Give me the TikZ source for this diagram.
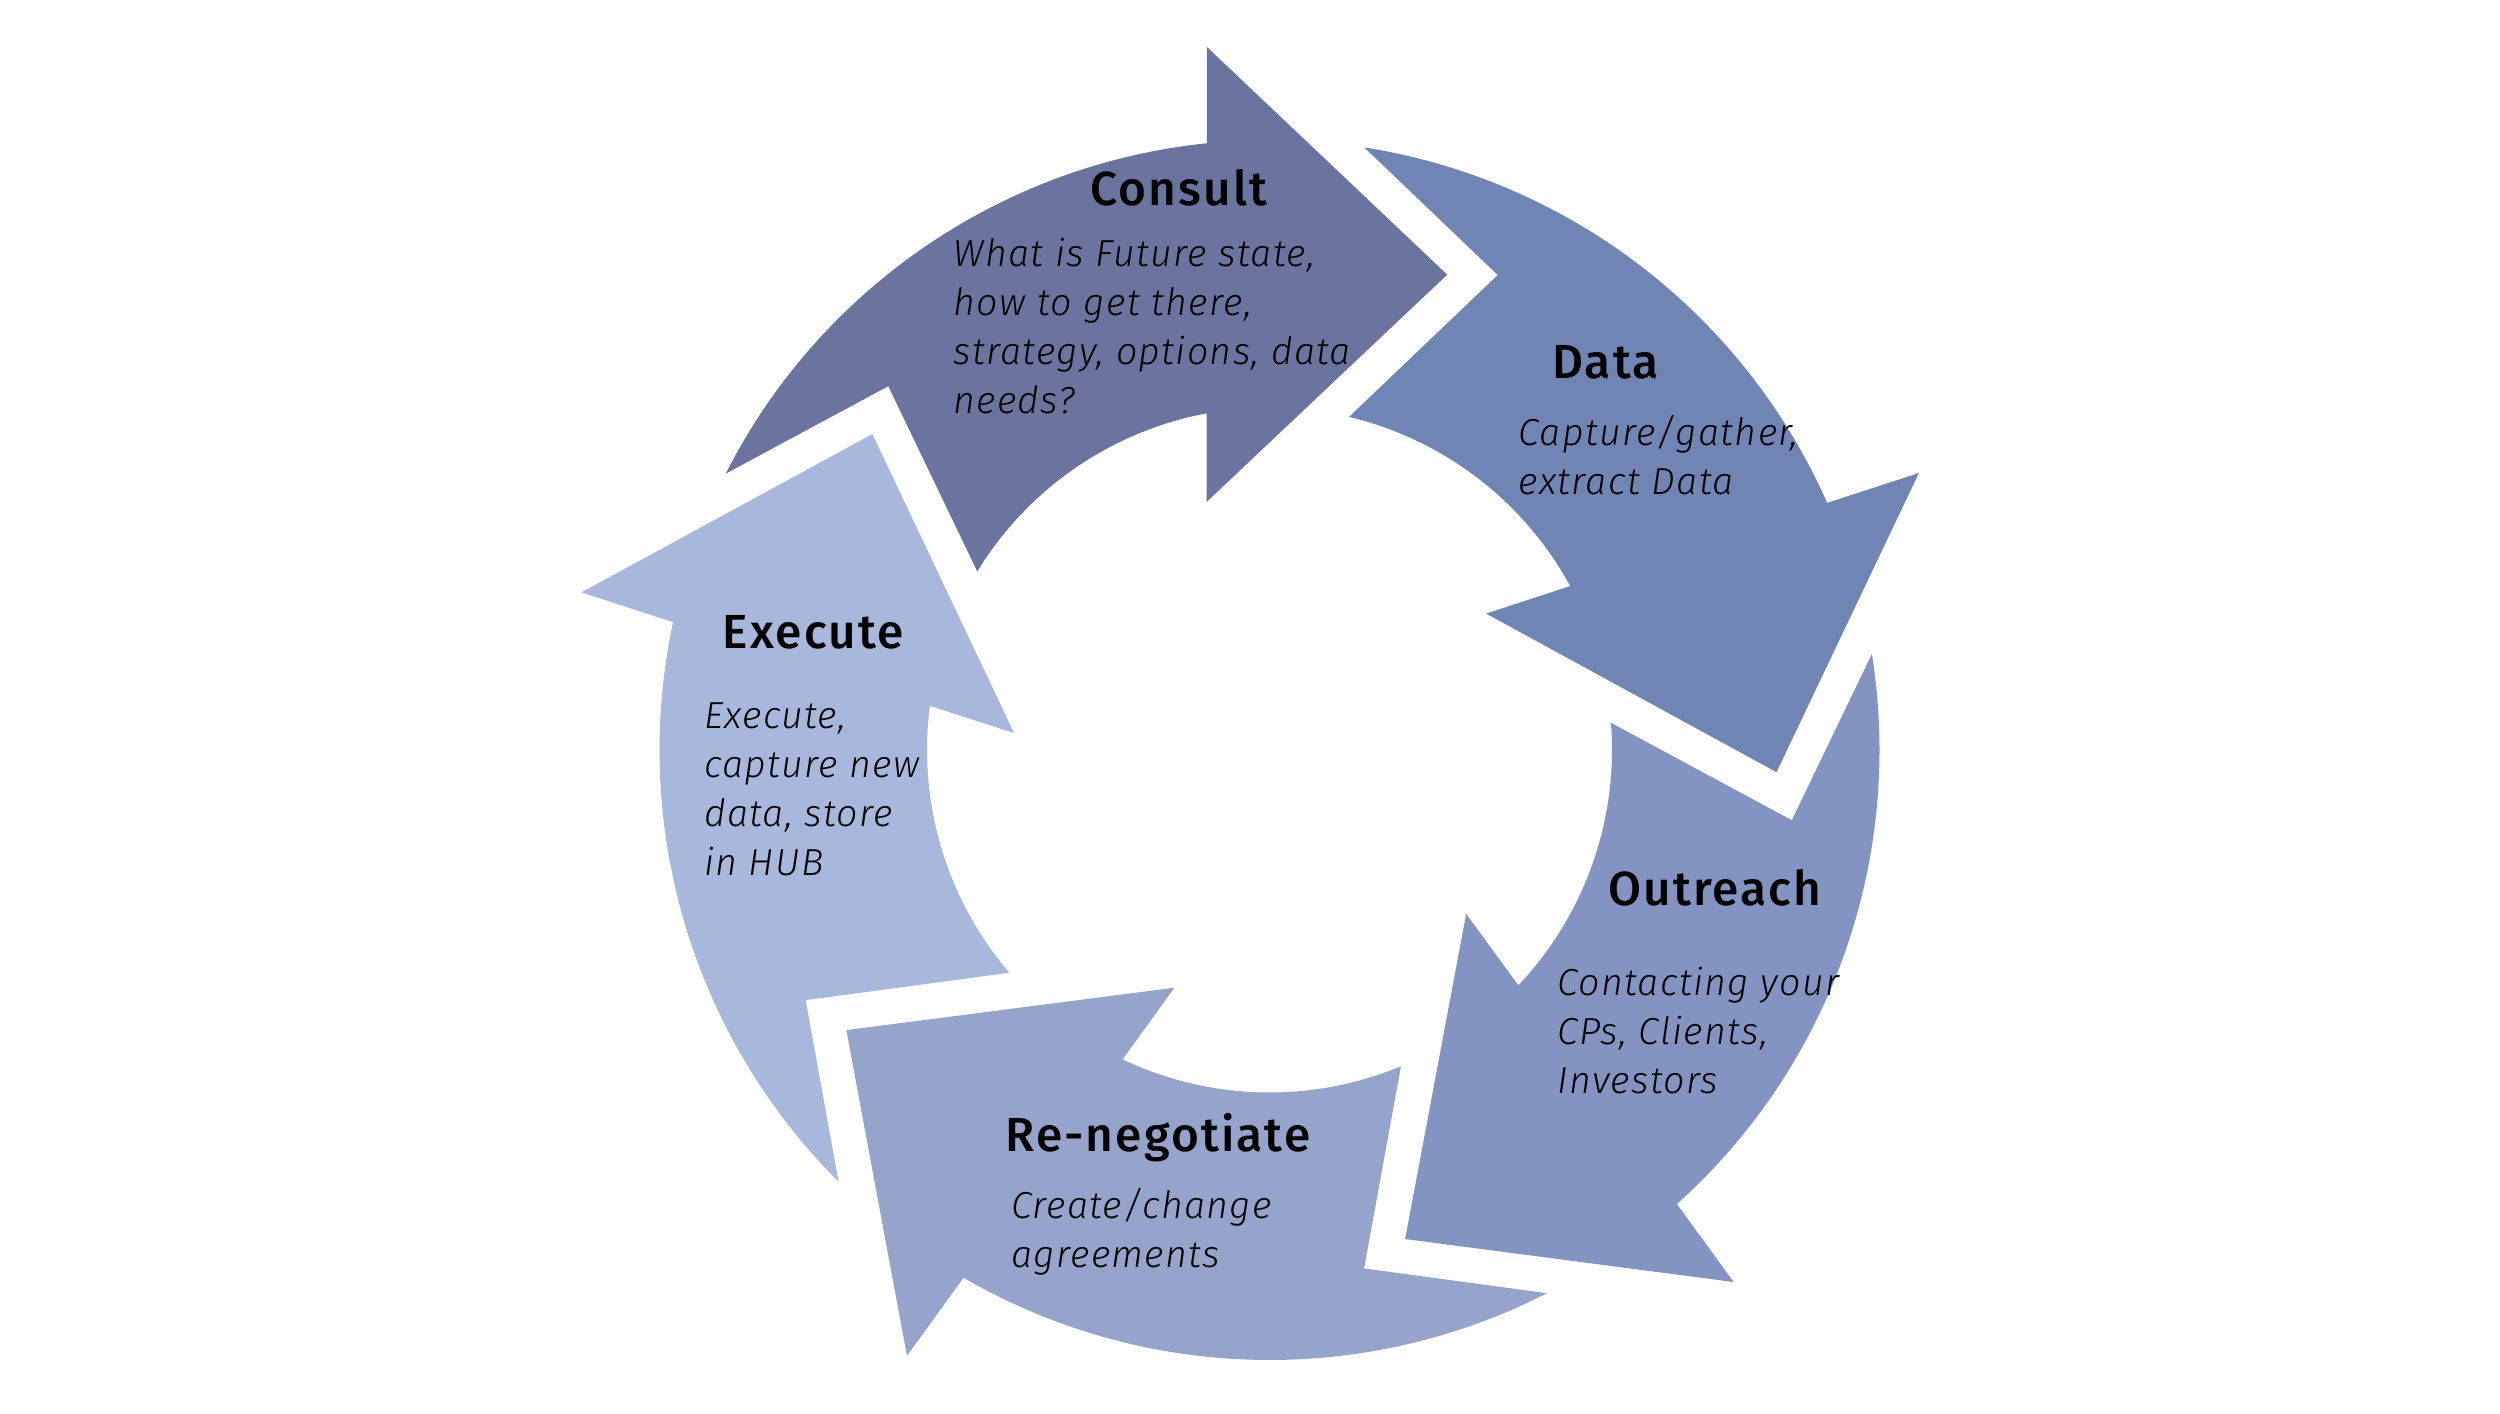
\documentclass[tikz,border=0pt]{standalone}
\usepackage{fontspec}
\setmainfont{Fira Sans}[BoldFont={Fira Sans Medium},ItalicFont={Fira Sans Light Italic},BoldFeatures={LetterSpace=4.4},ItalicFeatures={LetterSpace=3.5}]
\definecolor{cConsult}{HTML}{6B739F}
\definecolor{cData}{HTML}{7185B5}
\definecolor{cOutreach}{HTML}{8394C2}
\definecolor{cRenego}{HTML}{96A4CC}
\definecolor{cExecute}{HTML}{A8B8DC}
\tikzset{
  ttl/.style={anchor=base, inner sep=0pt, text=black, font=\fontsize{13.6}{16}\selectfont\bfseries},
  dsc/.style={anchor=base west, inner sep=0pt, text=black, font=\fontsize{10.7}{13.95}\selectfont\itshape},
}
\begin{document}
\begin{tikzpicture}
\useasboundingbox (0,0) rectangle (25,14.13);
\coordinate (C) at (12.695,6.63);
\begin{scope}[shift={(C)}]
\foreach \k/\col in {0/cConsult,1/cData,2/cOutreach,3/cRenego,4/cExecute}{
  \pgfmathsetmacro\o{-72*\k}
  \fill[\col] ({153.06+\o}:6.10) arc[start angle={153.06+\o}, end angle={95.9+\o}, radius=6.10]
    -- ({95.1+\o}:7.06) -- ({69.5+\o}:5.075) -- ({104.2+\o}:2.56) -- ({100.6+\o}:3.425)
    arc[start angle={100.6+\o}, end angle={148.57+\o}, radius=3.425]
    -- ({136.34+\o}:5.27) -- cycle;
}
\end{scope}
\node[ttl] (tConsult) at (11.79,12.08) {Consult};
\node[ttl] (tData) at (16.055,10.35) {Data};
\node[ttl] (tOutreach) at (17.15,5.08) {Outreach};
\node[ttl] (tRenego) at (11.58,2.62) {Re-negotiate};
\node[ttl] (tExecute) at (8.133,7.647) {Execute};
\node[dsc] (dConsult) at (9.53,11.463) {\vtop{\hbox{What is Future state,}\hbox{how to get there,}\hbox{strategy, options, data}\hbox{needs?}}};
\node[dsc] (dData) at (15.18,9.68) {\vtop{\hbox{Capture/gather,}\hbox{extract Data}}};
\node[dsc] (dOutreach) at (15.567,4.18) {\vtop{\hbox{Contacting your}\hbox{CPs, Clients,}\hbox{Investors}}};
\node[dsc] (dRenego) at (10.107,1.947) {\vtop{\hbox{Create/change}\hbox{agreements}}};
\node[dsc] (dExecute) at (7.033,6.847) {\vtop{\hbox{Execute,}\hbox{capture new}\hbox{data, store}\hbox{in HUB}}};
\end{tikzpicture}
\end{document}
